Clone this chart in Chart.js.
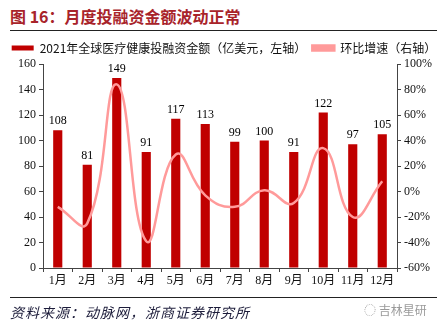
<!DOCTYPE html>
<html>
<head>
<meta charset="utf-8">
<script src="https://cdn.jsdelivr.net/npm/chart.js@4"></script>
<style>
  body { margin: 0; background: #fff; width: 448px; height: 327px; position: relative; overflow: hidden; }
  #title { position: absolute; left: 10px; top: 4px; font: bold 16px "Noto Sans CJK SC", sans-serif; color: #a8232a; }
  #rule1 { position: absolute; left: 10px; top: 30px; width: 427px; height: 1px; background: #222; }
  #rule2 { position: absolute; left: 10px; top: 297px; width: 427px; height: 1px; background: #222; }
  #source { position: absolute; left: 10px; top: 302px; font: italic 14px "Noto Sans CJK SC", sans-serif; letter-spacing: 1px; color: #1c1c3a; }
  #mark { position: absolute; left: 364px; top: 301px; font: 12px "Noto Sans CJK SC", sans-serif; color: #9a9a9a; }
  #wrap { position: absolute; left: 0; top: 36px; width: 448px; height: 262px; }
</style>
</head>
<body>
<div id="title">图 16：月度投融资金额波动正常</div>
<div id="rule1"></div>
<div id="wrap"><canvas id="barChart"></canvas></div>
<div id="rule2"></div>
<div id="source">资料来源：动脉网，浙商证券研究所</div>
<div id="mark">◌ 吉林星研</div>
<script>
var months = ['1月', '2月', '3月', '4月', '5月', '6月', '7月', '8月', '9月', '10月', '11月', '12月'];
var amount = [108, 81, 149, 91, 117, 113, 99, 100, 91, 122, 97, 105];
var growth = [-12, -25, 84, -39, 29, -3, -12, 1, -9, 34, -20, 8];
var leftTicks = [0, 20, 40, 60, 80, 100, 120, 140, 160];
var rightTicks = [-60, -40, -20, 0, 20, 40, 60, 80, 100];

var serif = "'Liberation Serif', 'Noto Sans CJK SC', serif";

// numbers above the bars
var barLabels = {
    id: 'barLabels',
    afterDatasetsDraw: function(chart) {
        var ctx = chart.ctx;
        var meta = chart.getDatasetMeta(0);
        ctx.save();
        ctx.font = '12px ' + serif;
        ctx.fillStyle = '#000';
        ctx.textAlign = 'center';
        ctx.textBaseline = 'bottom';
        meta.data.forEach(function(bar, i) {
            ctx.fillText(amount[i], bar.x, bar.y - 3);
        });
        ctx.restore();
    }
};

const ctx = document.getElementById('barChart').getContext('2d');
const myChart = new Chart(ctx, {
    type: 'bar',
    data: {
        labels: months,
        datasets: [{
                label: '2021年全球医疗健康投融资金额（亿美元，左轴）',
                backgroundColor: '#c00000',
                borderColor: '#c00000',
                data: amount,
                yAxisID: 'y',
                barPercentage: 0.62,
                categoryPercentage: 0.5,
                order: 2
            },
            {
                type: 'line',
                label: '环比增速（右轴）',
                backgroundColor: '#ff9a9a',
                borderColor: '#ff9a9a',
                borderWidth: 2.5,
                pointRadius: 0,
                tension: 0.45,
                data: growth,
                yAxisID: 'y1',
                order: 1
            }
        ]
    },
    options: {
        responsive: true,
        maintainAspectRatio: false,
        animation: false,
        layout: { padding: { top: 0, bottom: 0, left: 0, right: 0 } },
        plugins: {
            tooltip: { enabled: false },
            legend: {
                labels: {
                    font: { family: "'Noto Sans CJK SC', sans-serif", size: 12 },
                    color: '#111',
                    boxWidth: 22,
                    boxHeight: 5,
                    padding: 6,
                    sort: function(a, b) { return a.datasetIndex - b.datasetIndex; }
                }
            }
        },
        scales: {
            x: {
                grid: { drawOnChartArea: false, tickLength: 4, color: '#444' },
                border: { color: '#444' },
                ticks: { font: { family: serif, size: 12 }, color: '#111', padding: 2, maxRotation: 0 },
                afterFit: function(s) { s.height = 30; }
            },
            y: {
                position: 'left',
                min: 0,
                max: 160,
                afterBuildTicks: function(s) { s.ticks = leftTicks.map(function(v) { return { value: v }; }); },
                grid: { drawOnChartArea: false, tickLength: 4, color: '#444' },
                border: { color: '#444' },
                ticks: { font: { family: serif, size: 12 }, color: '#111', padding: 3 },
                afterFit: function(s) { s.width = 43; }
            },
            y1: {
                position: 'right',
                min: -60,
                max: 100,
                afterBuildTicks: function(s) { s.ticks = rightTicks.map(function(v) { return { value: v }; }); },
                grid: { drawOnChartArea: false, tickLength: 4, color: '#444' },
                border: { color: '#444' },
                ticks: {
                    font: { family: serif, size: 12 },
                    color: '#111',
                    padding: 3,
                    callback: function(v) { return v + '%'; }
                },
                afterFit: function(s) { s.width = 51; }
            }
        }
    },
    plugins: [barLabels]
});
</script>
</body>
</html>
